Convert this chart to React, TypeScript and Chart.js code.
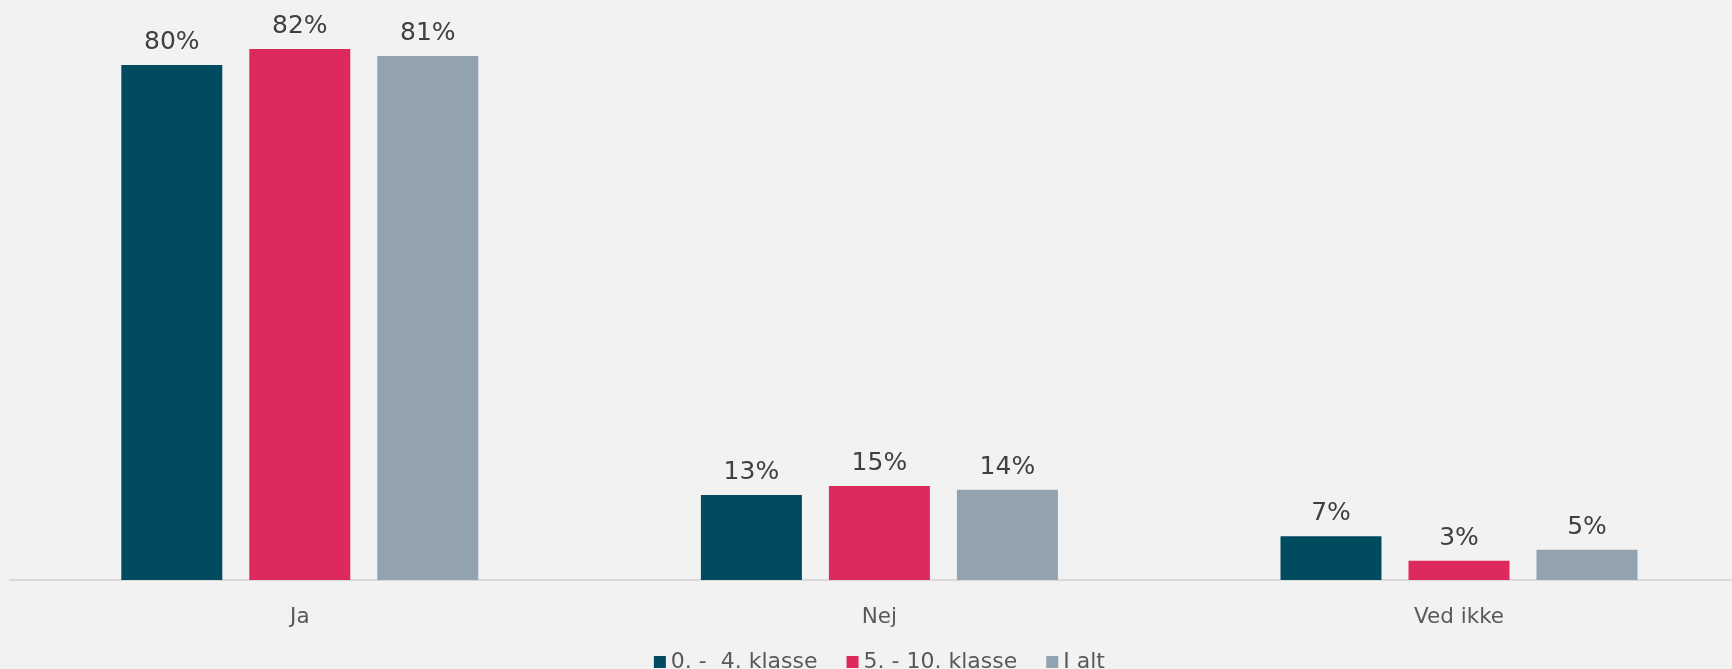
import React, { useEffect, useRef } from "react";
import { Chart, registerables } from "chart.js";

Chart.register(...registerables);

const categories = ["Ja", "Nej", "Ved ikke"];
const seriesNames = ["0. -  4. klasse", "5. - 10. klasse", "I alt"];
const grade0to4 = [79.9, 13.2, 6.8];
const grade5to10 = [82.4, 14.6, 3.0];
const total = [81.3, 14.0, 4.7];

const FONT = '"DejaVu Sans", Verdana, sans-serif';

const valueLabels = {
  id: "valueLabels",
  afterDatasetsDraw(chart: any) {
    const ctx = chart.ctx;
    ctx.save();
    ctx.font = `25px ${FONT}`;
    ctx.fillStyle = "#404040";
    ctx.textAlign = "center";
    ctx.textBaseline = "alphabetic";
    chart.data.datasets.forEach((ds: any, i: number) => {
      const meta = chart.getDatasetMeta(i);
      meta.data.forEach((bar: any, j: number) => {
        const v = ds.data[j];
        ctx.fillText(`${Math.round(v)}%`, bar.x, bar.y - 16);
      });
    });
    ctx.restore();
  },
};

const customLegend = {
  id: "customLegend",
  afterDraw(chart: any) {
    const ctx = chart.ctx;
    ctx.save();
    ctx.font = `22px ${FONT}`;
    const box = 12;
    const gapText = 5;
    const gapItem = 29;
    const items = chart.data.datasets.map((ds: any) => ({
      text: ds.label as string,
      color: ds.backgroundColor as string,
      w: ctx.measureText(ds.label).width,
    }));
    const totalW =
      items.reduce((s: number, it: any) => s + box + gapText + it.w, 0) +
      gapItem * (items.length - 1);
    const center = (chart.chartArea.left + chart.chartArea.right) / 2;
    let x = center - totalW / 2;
    const yBase = 668;
    items.forEach((it: any) => {
      ctx.fillStyle = it.color;
      ctx.fillRect(x, 656, box, box);
      ctx.fillStyle = "#595959";
      ctx.textAlign = "left";
      ctx.textBaseline = "alphabetic";
      ctx.fillText(it.text, x + box + gapText, yBase);
      x += box + gapText + it.w + gapItem;
    });
    ctx.restore();
  },
};

export default function App() {
  const ref = useRef<HTMLCanvasElement | null>(null);

  useEffect(() => {
    if (!ref.current) return;
    const barPct = 0.789;
    const catPct = 0.6625;
    const chart = new Chart(ref.current, {
      type: "bar",
      data: {
        labels: categories,
        datasets: [
          {
            label: seriesNames[0],
            data: grade0to4,
            backgroundColor: "#004B5F",
            barPercentage: barPct,
            categoryPercentage: catPct,
          },
          {
            label: seriesNames[1],
            data: grade5to10,
            backgroundColor: "#DE295C",
            barPercentage: barPct,
            categoryPercentage: catPct,
          },
          {
            label: seriesNames[2],
            data: total,
            backgroundColor: "#92A2AE",
            barPercentage: barPct,
            categoryPercentage: catPct,
          },
        ],
      },
      options: {
        responsive: false,
        animation: false,
        devicePixelRatio: 1,
        layout: { padding: { left: 10, right: 11.2, top: 0, bottom: 0 } },
        plugins: {
          legend: { display: false },
          tooltip: { enabled: false },
        },
        scales: {
          x: {
            grid: { display: false },
            border: { display: true, color: "#D9D9D9", width: 2 },
            ticks: {
              color: "#595959",
              font: { family: FONT, size: 21.5 },
              padding: 17,
            },
            afterFit: (s: any) => {
              s.height = 89;
            },
          },
          y: { display: false, min: 0, max: 90 },
        },
      },
      plugins: [valueLabels, customLegend],
    });
    return () => chart.destroy();
  }, []);

  return (
    <div
      style={{
        position: "absolute",
        left: 0,
        top: 0,
        width: 1732,
        height: 669,
        overflow: "hidden",
        background: "#F2F2F2",
      }}
    >
      <canvas
        ref={ref}
        width={1760}
        height={669}
        style={{ display: "block", width: 1760, height: 669 }}
      />
    </div>
  );
}
